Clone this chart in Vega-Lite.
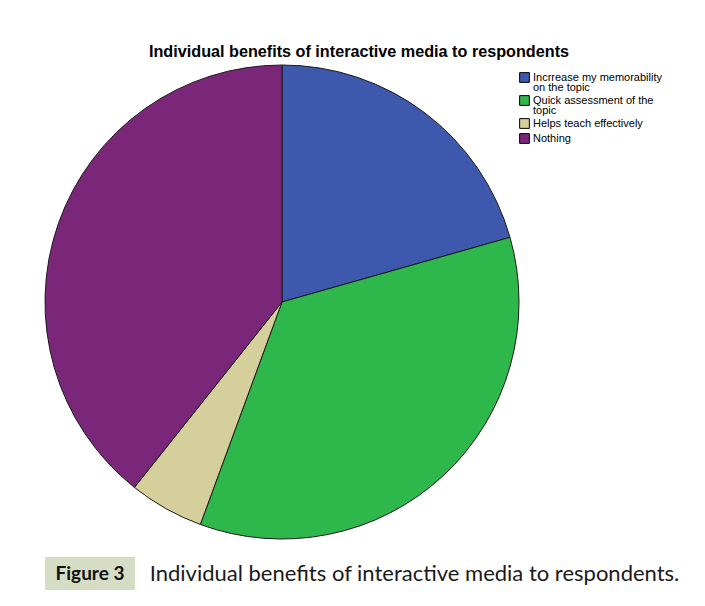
{
  "$schema": "https://vega.github.io/schema/vega-lite/v6.json",
  "padding": {"left": 43, "top": 43, "right": 0, "bottom": 0},
  "background": "white",
  "config": {"view": {"stroke": null}},
  "spacing": 16,
  "vconcat": [
    {
      "width": 474,
      "height": 474,
      "title": {
        "text": "Individual benefits of interactive media to respondents",
        "font": "Liberation Sans",
        "fontSize": 16.2,
        "fontWeight": "bold",
        "color": "#000000",
        "dx": 77,
        "offset": -10,
        "baseline": "alphabetic"
      },
      "data": {
        "values": [
          {"benefit": "Incrrease my memorability on the topic", "percent": 20.6},
          {"benefit": "Quick assessment of the topic", "percent": 35.0},
          {"benefit": "Helps teach effectively", "percent": 5.1},
          {"benefit": "Nothing", "percent": 39.3}
        ]
      },
      "transform": [{"window": [{"op": "row_number", "as": "idx"}]}],
      "mark": {"type": "arc", "outerRadius": 237, "stroke": "#1a1a1a", "strokeWidth": 1},
      "encoding": {
        "theta": {"field": "percent", "type": "quantitative", "stack": true},
        "order": {"field": "idx", "type": "quantitative"},
        "color": {
          "field": "benefit",
          "type": "nominal",
          "scale": {
            "domain": ["Incrrease my memorability on the topic", "Quick assessment of the topic", "Helps teach effectively", "Nothing"],
            "range": ["#3d58ac", "#2eb84b", "#d5cf9c", "#7b2779"]
          },
          "legend": {
            "orient": "none",
            "legendX": 467,
            "legendY": 0,
            "padding": 7,
            "title": null,
            "symbolType": "square",
            "symbolSize": 95,
            "symbolStrokeColor": "#000000",
            "symbolStrokeWidth": 1,
            "symbolOpacity": 1,
            "labelFont": "Liberation Sans",
            "labelFontSize": 11,
            "labelColor": "#000000",
            "labelOffset": 3,
            "labelLimit": 300,
            "rowPadding": 0,
            "labelExpr": "datum.label == 'Incrrease my memorability on the topic' ? ['Incrrease my memorability', 'on the topic'] : datum.label == 'Quick assessment of the topic' ? ['Quick assessment of the', 'topic'] : datum.label",
            "encode": {"labels": {"update": {"lineHeight": {"value": 10.5}}}}
          }
        }
      }
    },
    {
      "spacing": 14,
      "data": {"values": [{"label": "Figure 3", "caption": "Individual benefits of interactive media to respondents."}]},
      "hconcat": [
        {
          "width": 90,
          "height": 33,
          "view": {"fill": "#d5dec5", "stroke": null},
          "mark": {"type": "text", "font": "Lato", "fontSize": 19, "fontWeight": "bold", "color": "#111111"},
          "encoding": {"text": {"field": "label", "type": "nominal"}}
        },
        {
          "width": 529,
          "height": 33,
          "mark": {"type": "text", "font": "Lato", "fontSize": 22, "color": "#1a1a1a"},
          "encoding": {"text": {"field": "caption", "type": "nominal"}}
        }
      ]
    }
  ]
}
